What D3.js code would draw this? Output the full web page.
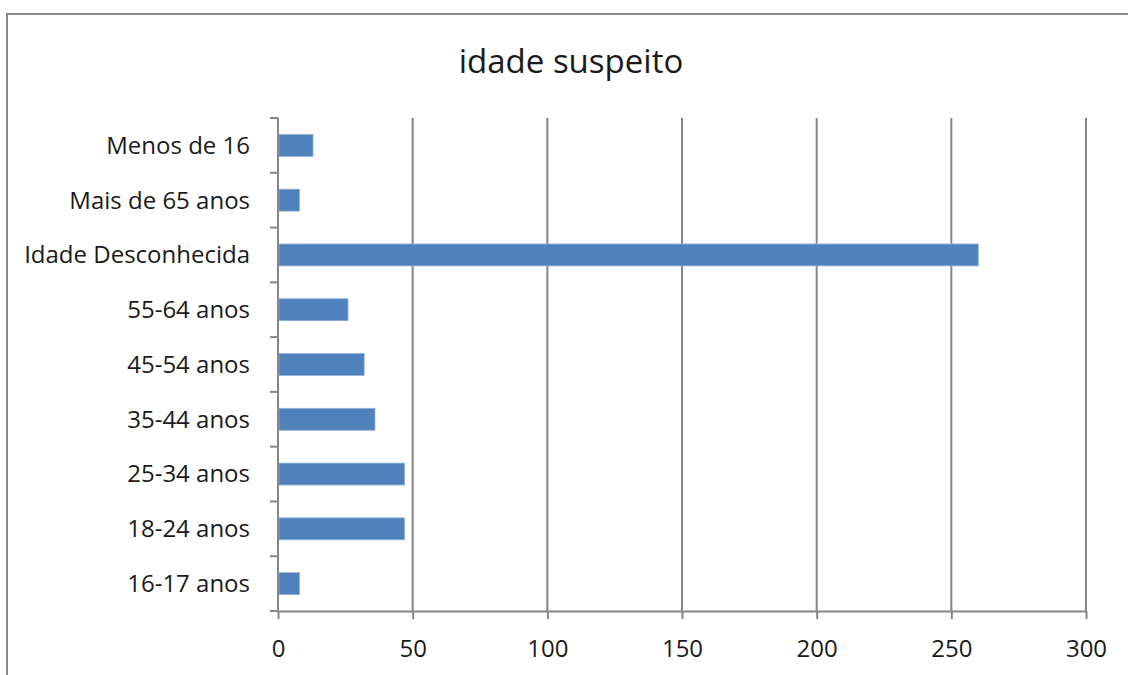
<!DOCTYPE html>
<html>
<head>
<meta charset="utf-8">
<script src="https://d3js.org/d3.v7.min.js"></script>
<style>
    body { margin: 0; background: #fff; }
    text { font-family: "Open Sans", sans-serif; fill: #1a1a1a; }
    text.title { font-size: 33px; }
    .axis text { font-size: 24px; }
    .axis path, .axis line { stroke: #868686; stroke-width: 2px; }
    .grid line { stroke: #868686; stroke-width: 2px; }
</style>
</head>
<body>
<div id="chart"></div>
<script>
    // data
    const categories = ["Menos de 16", "Mais de 65 anos", "Idade Desconhecida", "55-64 anos",
        "45-54 anos", "35-44 anos", "25-34 anos", "18-24 anos", "16-17 anos"];
    const values = [13, 8, 260, 26, 32, 36, 47, 47, 8];
    const xTicks = [0, 50, 100, 150, 200, 250, 300];
    const chartTitle = "idade suspeito";

    const width = 1128, height = 675;
    const margin = { top: 118, right: 42, bottom: 64, left: 278 };

    const svg = d3.select("#chart").append("svg")
        .attr("width", width)
        .attr("height", height);

    // outer frame (runs off the right and bottom edge)
    svg.append("rect")
        .attr("x", 7)
        .attr("y", 14)
        .attr("width", 1130)
        .attr("height", 700)
        .attr("fill", "none")
        .attr("stroke", "#888888")
        .attr("stroke-width", 2);

    svg.append("text")
        .attr("class", "title")
        .attr("x", 571)
        .attr("y", 73)
        .attr("text-anchor", "middle")
        .text(chartTitle);

    const x = d3.scaleLinear()
        .domain([0, 300])
        .range([margin.left, width - margin.right]);

    const y = d3.scaleBand()
        .domain(categories)
        .range([margin.top, height - margin.bottom])
        .paddingInner(0.6)
        .paddingOuter(0.3);

    // vertical gridlines
    svg.append("g")
        .attr("class", "grid")
        .selectAll("line")
        .data(xTicks.slice(1))
        .enter()
        .append("line")
        .attr("x1", d => x(d))
        .attr("x2", d => x(d))
        .attr("y1", margin.top)
        .attr("y2", height - margin.bottom);

    // bars
    svg.selectAll("rect.bar")
        .data(categories)
        .enter()
        .append("rect")
        .attr("class", "bar")
        .attr("x", x(0) + 1)
        .attr("y", d => y(d))
        .attr("width", (d, i) => x(values[i]) - x(0) - 1)
        .attr("height", y.bandwidth())
        .attr("fill", "#4f81bd")
        .attr("stroke", "#8fb0d9")
        .attr("stroke-width", 0.8);

    // x axis
    svg.append("g")
        .attr("class", "axis xAxis")
        .attr("transform", `translate(0, ${height - margin.bottom})`)
        .call(d3.axisBottom(x).tickValues(xTicks).tickSize(8).tickSizeOuter(0).tickPadding(21))
        .call(g => g.selectAll(".tick text").attr("dy", "0.71em"));

    // y axis: ticks sit between categories
    const yAxis = svg.append("g")
        .attr("class", "axis yAxis")
        .attr("transform", `translate(${margin.left}, 0)`);

    yAxis.append("line")
        .attr("x1", 0).attr("x2", 0)
        .attr("y1", margin.top)
        .attr("y2", height - margin.bottom);

    const step = (height - margin.bottom - margin.top) / categories.length;
    yAxis.selectAll("line.tk")
        .data(d3.range(categories.length + 1))
        .enter()
        .append("line")
        .attr("class", "tk")
        .attr("x1", -8).attr("x2", 0)
        .attr("y1", i => margin.top + i * step)
        .attr("y2", i => margin.top + i * step);

    yAxis.selectAll("text")
        .data(categories)
        .enter()
        .append("text")
        .attr("x", -28)
        .attr("y", d => y(d) + y.bandwidth() / 2)
        .attr("dy", "0.35em")
        .attr("text-anchor", "end")
        .text(d => d);
</script>
</body>
</html>
